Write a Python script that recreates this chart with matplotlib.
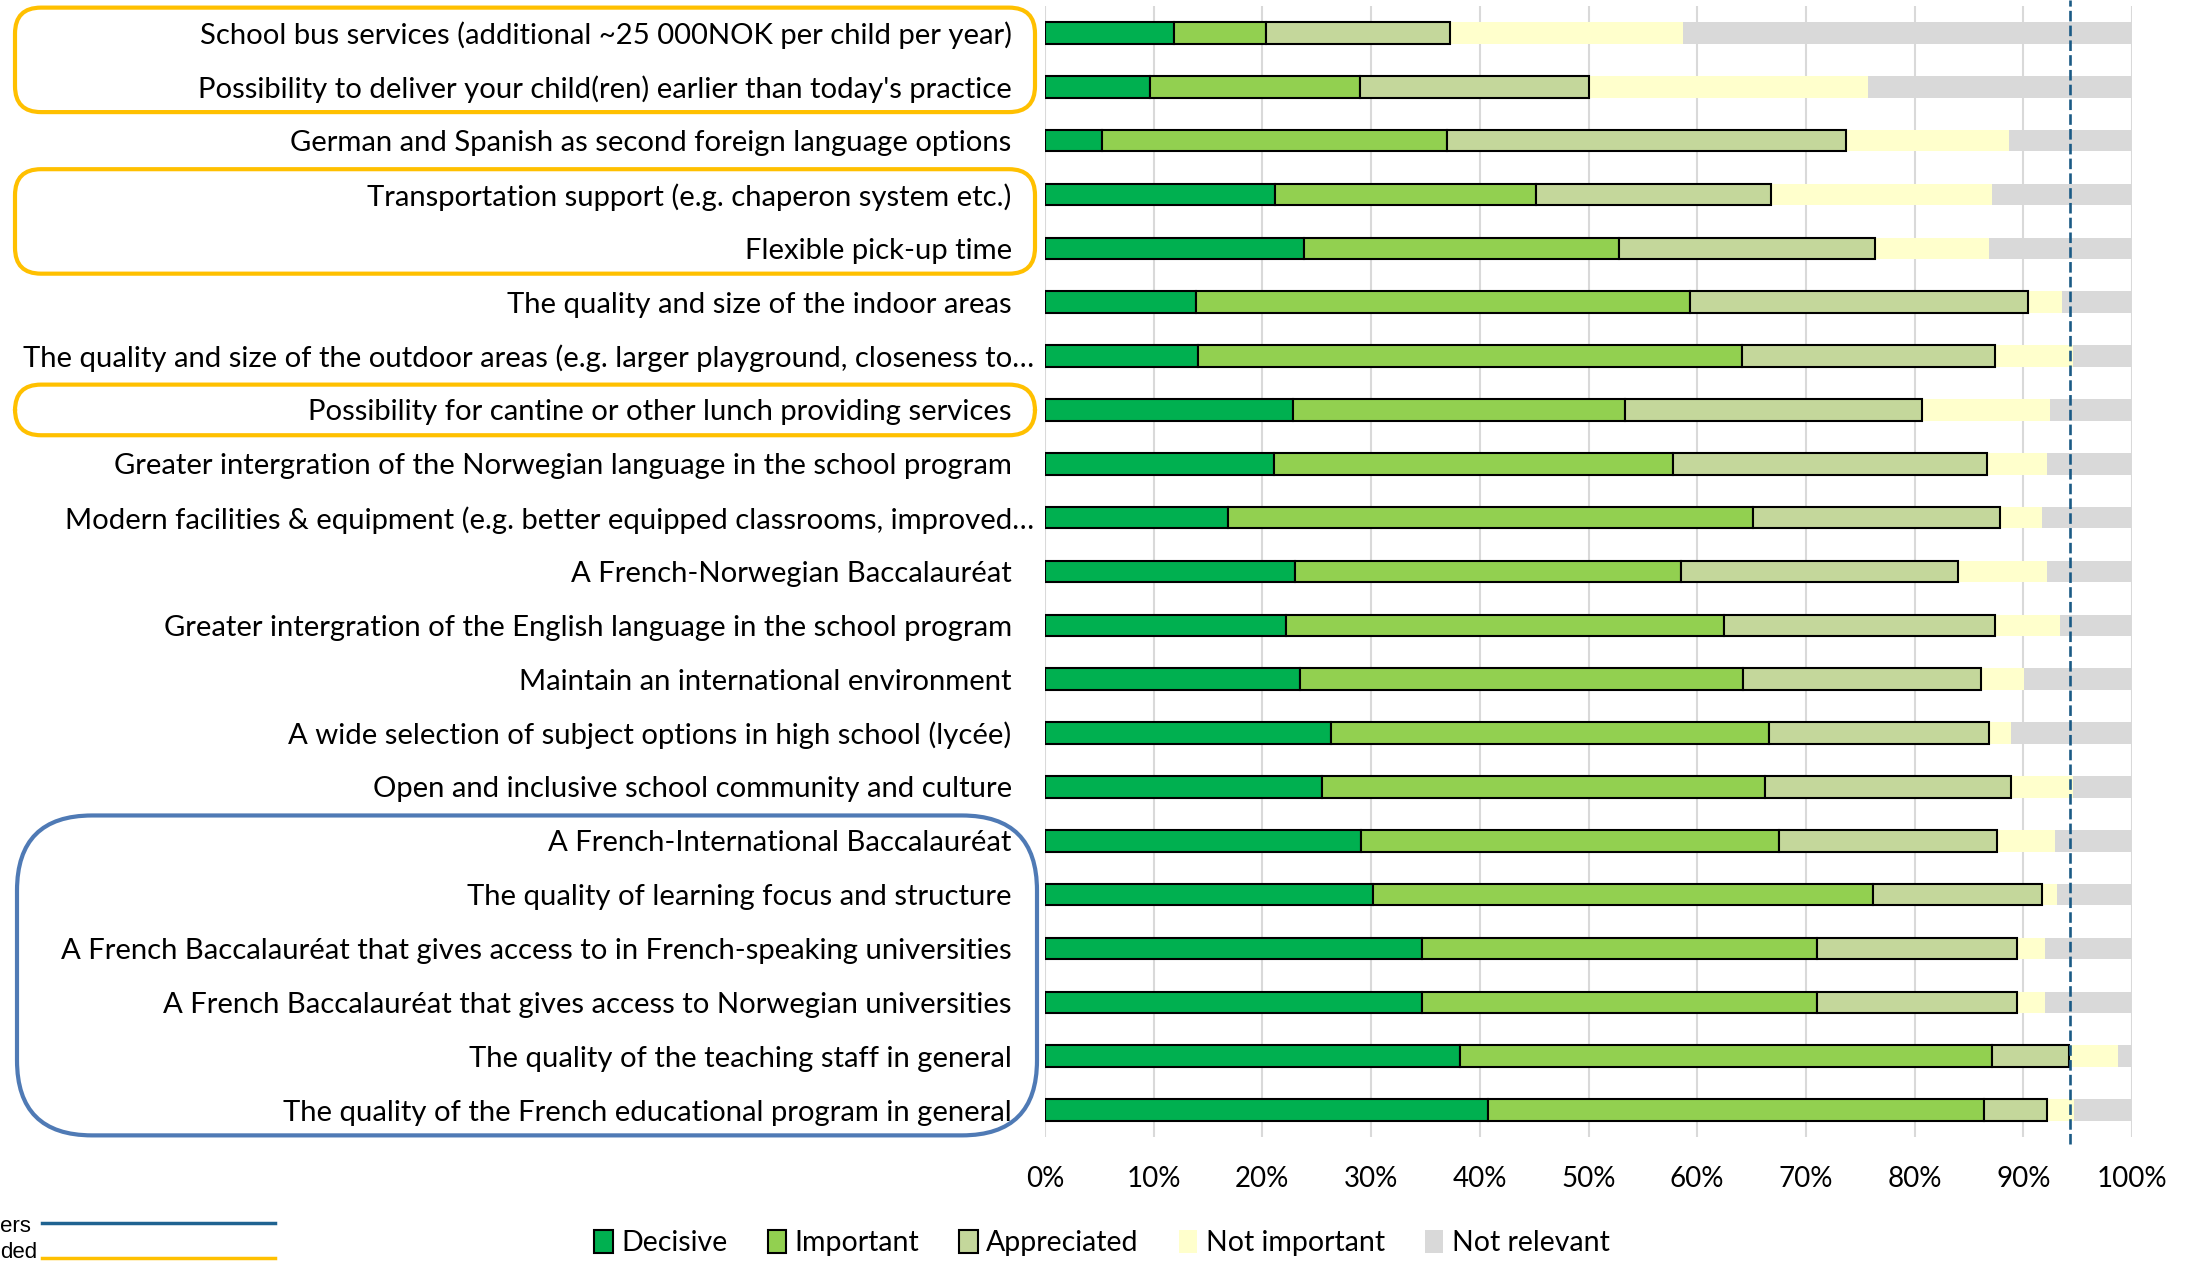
import numpy as np
import matplotlib
matplotlib.use("Agg")
import matplotlib.pyplot as plt
from matplotlib.patches import FancyBboxPatch
from matplotlib.transforms import ScaledTranslation

plt.rcParams['font.family'] = ['Lato', 'DejaVu Sans']

# survey items, listed top to bottom
categories = [
    "School bus services (additional ~25 000NOK per child per year)",
    "Possibility to deliver your child(ren) earlier than today's practice",
    "German and Spanish as second foreign language options",
    "Transportation support (e.g. chaperon system etc.)",
    "Flexible pick-up time",
    "The quality and size of the indoor areas",
    "The quality and size of the outdoor areas (e.g. larger playground, closeness to\u2026",
    "Possibility for cantine or other lunch providing services",
    "Greater intergration of the Norwegian language in the school program",
    "Modern facilities & equipment (e.g. better equipped classrooms, improved\u2026",
    "A French-Norwegian Baccalauréat",
    "Greater intergration of the English language in the school program",
    "Maintain an international environment",
    "A wide selection of subject options in high school (lycée)",
    "Open and inclusive school community and culture",
    "A French-International Baccalauréat",
    "The quality of learning focus and structure",
    "A French Baccalauréat that gives access to in French-speaking universities",
    "A French Baccalauréat that gives access to Norwegian universities",
    "The quality of the teaching staff in general",
    "The quality of the French educational program in general",
]

# shares in %
decisive = [11.9, 9.7, 5.2, 21.2, 23.8, 13.9, 14.1, 22.8, 21.1, 16.8, 23.0,
            22.2, 23.5, 26.3, 25.5, 29.1, 30.2, 34.7, 34.7, 38.2, 40.8]
important = [8.4, 19.3, 31.8, 24.0, 29.0, 45.4, 50.0, 30.6, 36.7, 48.3, 35.5,
             40.3, 40.7, 40.3, 40.7, 38.4, 46.0, 36.3, 36.3, 48.9, 45.6]
appreciated = [17.0, 21.0, 36.7, 21.6, 23.6, 31.1, 23.3, 27.3, 28.9, 22.8, 25.5,
               24.9, 21.9, 20.2, 22.7, 20.1, 15.5, 18.4, 18.4, 7.1, 5.8]
not_important = [21.4, 25.7, 15.0, 20.3, 10.4, 3.2, 7.2, 11.8, 5.5, 3.8, 8.2,
                 6.0, 4.0, 2.1, 5.7, 5.3, 1.4, 2.6, 2.6, 4.5, 2.5]
not_relevant = [41.3, 24.3, 11.3, 12.9, 13.2, 6.4, 5.4, 7.5, 7.8, 8.3, 7.8,
                6.6, 9.9, 11.1, 5.4, 7.1, 6.9, 8.0, 8.0, 1.3, 5.3]

reference_line = 94.3
series_names = ["Decisive", "Important", "Appreciated", "Not important", "Not relevant"]
series_colors = ["#00B050", "#92D050", "#C4D79B", "#FFFFCC", "#D9D9D9"]

# highlighted groups of rows (first, last)
yellow_groups = [(0, 1), (3, 4), (7, 7)]
blue_groups = [(15, 20)]

W, H = 2199, 1262
fig = plt.figure(figsize=(W / 100, H / 100), dpi=100)
ax = fig.add_axes([1045 / W, 1 - 1137 / H, (2132 - 1045) / W, (1137 - 6) / H])

y = np.arange(len(categories))
series = [decisive, important, appreciated, not_important, not_relevant]
left = np.zeros(len(categories))
for i, (vals, name, col) in enumerate(zip(series, series_names, series_colors)):
    vals = np.array(vals)
    if i < 3:
        ax.barh(y, vals, left=left, height=0.40, color=col, edgecolor='black',
                linewidth=1.5, label=name, zorder=3)
    else:
        ax.barh(y, vals, left=left, height=0.40, color=col, linewidth=0,
                label=name, zorder=2)
    left += vals

ax.axvline(reference_line, ymin=-0.006, ymax=1.005, color='#1A5A85', lw=1.9,
           linestyle=(0, (4, 1.6)), zorder=4, clip_on=False)

ax.set_xlim(0, 100)
ax.set_ylim(len(categories) - 0.5, -0.5)
ax.set_xticks(np.arange(0, 101, 10))
ax.set_xticklabels([f"{v}%" for v in range(0, 101, 10)])
ax.set_yticks(y)
ax.set_yticklabels(categories)
ax.tick_params(axis='both', length=0, labelsize=21.1, colors='black')
ax.tick_params(axis='x', labelsize=20)
ax.tick_params(axis='y', pad=24)
ax.tick_params(axis='x', pad=21)
ax.grid(axis='x', color='#D9D9D9', lw=1.5, zorder=0)
for s in ax.spines.values():
    s.set_visible(False)

# truncated labels run a bit closer to the bars
for lab in ax.get_yticklabels():
    if lab.get_text().endswith('\u2026'):
        lab.set_transform(lab.get_transform() + ScaledTranslation(0.22, 0, fig.dpi_scale_trans))

fig.legend(loc='center', bbox_to_anchor=(1102 / W, 1 - 1243 / H), ncol=5,
           frameon=False, fontsize=20.5, handlelength=0.65, handleheight=0.85,
           handletextpad=0.3, columnspacing=1.4)

# overlay in pixel units for the rounded highlight boxes
ov = fig.add_axes([0, 0, 1, 1], zorder=-1)
ov.set_xlim(0, W)
ov.set_ylim(0, H)
ov.axis('off')
ov.patch.set_alpha(0)

fig.canvas.draw()
slot = abs(ax.transData.transform((0, 1))[1] - ax.transData.transform((0, 0))[1])


def row_box(first, last, x0, x1, color, radius):
    ytop = ax.transData.transform((0, first))[1] + slot * 0.47
    ybot = ax.transData.transform((0, last))[1] - slot * 0.47
    ov.add_patch(FancyBboxPatch((x0, ybot), x1 - x0, ytop - ybot,
                                boxstyle=f"round,pad=0,rounding_size={radius}",
                                fill=False, edgecolor=color, lw=3))


for a, b in yellow_groups:
    row_box(a, b, 15, 1035, '#FFC000', 26)
for a, b in blue_groups:
    row_box(a, b, 17, 1037, '#4F7AB5', 75)

# cut-off legend of the highlight boxes at the lower left
ov.text(0, 35, "ers", fontsize=16, family='Liberation Sans', va='center')
ov.plot([42, 275], [39, 39], color='#1F6391', lw=2.5)
ov.text(0, 9, "ded", fontsize=16, family='Liberation Sans', va='center')
ov.plot([42, 275], [4, 4], color='#FFC000', lw=2.5)

fig.savefig("out.png", dpi=100)
